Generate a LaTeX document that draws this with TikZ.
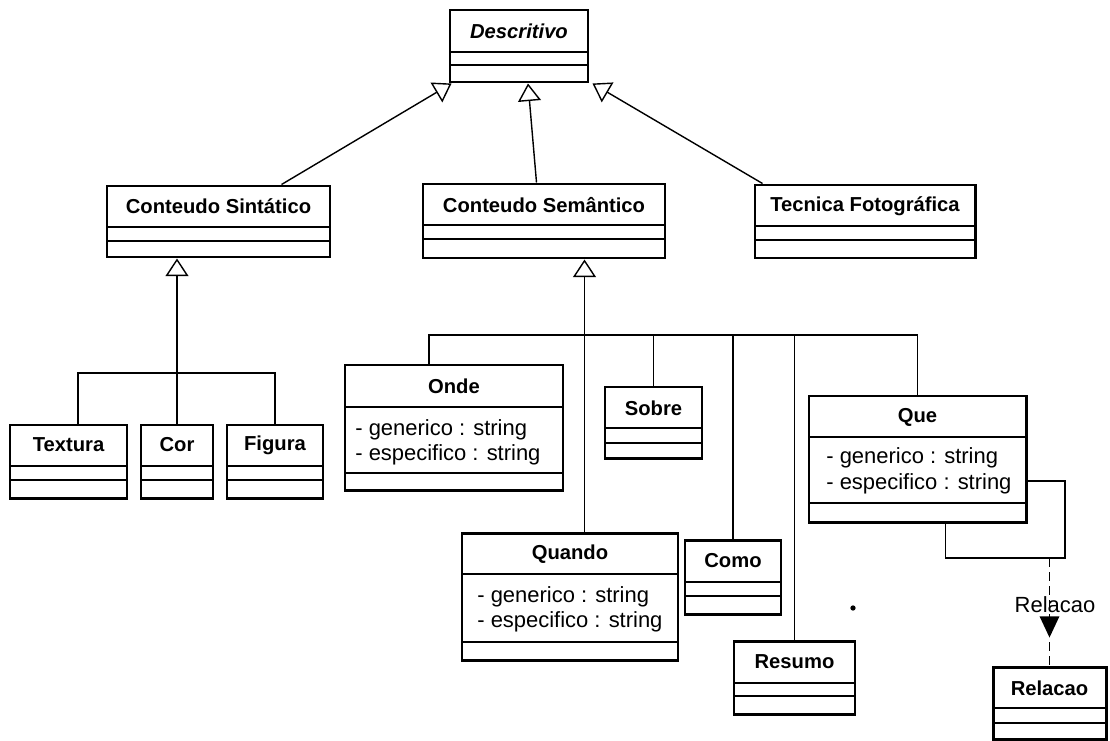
\documentclass[tikz,border=0pt]{standalone}
\usepackage{fontspec}
\setmainfont{Liberation Sans}
\usetikzlibrary{arrows.meta,calc,fit,decorations.markings}

\tikzset{
  classbox/.style = {draw, line width=1.7pt, inner sep=0pt},
  classname/.style = {font=\fontsize{11.5}{13}\selectfont\bfseries, inner sep=0pt},
  attr/.style = {font=\fontsize{12.5}{15}\selectfont, anchor=west, inner sep=0pt},
  sep/.style = {line width=0.8pt},
  link/.style = {line width=0.8pt},
  gen/.style = {link, -{Triangle[open, length=10pt, width=13pt, line width=0.8pt]}},
}

\begin{document}
\begin{tikzpicture}[x=0.02cm, y=-0.02cm]
\useasboundingbox (0,0) rectangle (1110,741);

% top class
\node[classbox, fit={(450,10) (588,82)}] (descr) {};
\node[classname] (descr-name) at (519,31) {\textit{Descritivo}};
\draw[sep] (450,52) -- (588,52);
\draw[sep] (450,65) -- (588,65);

% second level
\node[classbox, fit={(107,186) (330,257)}] (sint) {};
\node[classname] (sint-name) at (218.5,206) {Conteudo Sintático};
\draw[sep] (107,227) -- (330,227);
\draw[sep] (107,241) -- (330,241);

\node[classbox, fit={(423,184) (665,258)}] (sem) {};
\node[classname] (sem-name) at (544,205) {Conteudo Semântico};
\draw[sep] (423,225) -- (665,225);
\draw[sep] (423,239) -- (665,239);

\node[classbox, fit={(755,185) (975,258)}] (tec) {};
\node[classname] (tec-name) at (865,206) {Tecnica Fotográfica};
\draw[sep] (755,226) -- (975,226);
\draw[sep] (755,240) -- (975,240);

% syntactic leaves
\node[classbox, fit={(10,425) (127,498)}] (textura) {};
\node[classname] (textura-name) at (68.5,445) {Textura};
\draw[sep] (10,466) -- (127,466);
\draw[sep] (10,480) -- (127,480);

\node[classbox, fit={(141,425) (213,498)}] (cor) {};
\node[classname] (cor-name) at (177,445) {Cor};
\draw[sep] (141,466) -- (213,466);
\draw[sep] (141,480) -- (213,480);

\node[classbox, fit={(227,425) (323,498)}] (figura) {};
\node[classname] (figura-name) at (275,445) {Figura};
\draw[sep] (227,466) -- (323,466);
\draw[sep] (227,480) -- (323,480);

% semantic leaves
\node[classbox, fit={(345,365) (563,490)}] (onde) {};
\node[classname] (onde-name) at (454,386) {Onde};
\draw[sep] (345,407) -- (563,407);
\node[attr] (onde-a1) at (355,430) {- generico : string};
\node[attr] (onde-a2) at (355,455) {- especifico : string};
\draw[sep] (345,473) -- (563,473);

\node[classbox, fit={(605,387) (702,458)}] (sobre) {};
\node[classname] (sobre-name) at (653.5,408) {Sobre};
\draw[sep] (605,428) -- (702,428);
\draw[sep] (605,443) -- (702,443);

\node[classbox, fit={(809,396) (1026,522)}] (que) {};
\node[classname] (que-name) at (917.5,417) {Que};
\draw[sep] (809,437) -- (1026,437);
\node[attr] (que-a1) at (826,458) {- generico : string};
\node[attr] (que-a2) at (826,484) {- especifico : string};
\draw[sep] (809,503) -- (1026,503);

\node[classbox, fit={(462,533) (678,660)}] (quando) {};
\node[classname] (quando-name) at (570,554) {Quando};
\draw[sep] (462,574) -- (678,574);
\node[attr] (quando-a1) at (477,597) {- generico : string};
\node[attr] (quando-a2) at (477,622) {- especifico : string};
\draw[sep] (462,642) -- (678,642);

\node[classbox, fit={(685,540) (781,614)}] (como) {};
\node[classname] (como-name) at (733,561) {Como};
\draw[sep] (685,582) -- (781,582);
\draw[sep] (685,596) -- (781,596);

\node[classbox, fit={(734,641) (855,714)}] (resumo) {};
\node[classname] (resumo-name) at (794.5,662) {Resumo};
\draw[sep] (734,683) -- (855,683);
\draw[sep] (734,696) -- (855,696);

\node[classbox, fit={(993,667) (1106,739)}] (relacao) {};
\node[classname] (relacao-name) at (1049.5,688) {Relacao};
\draw[sep] (993,708) -- (1106,708);
\draw[sep] (993,723) -- (1106,723);

% generalisations to the top
\draw[gen] ($(sint.north west)+(176,0)$) -- ($(descr.south west)+(3,0)$);
\draw[gen] ($(sem.north west)+(115,0)$) -- ($(descr.south)+(9,0)$);
\draw[gen] ($(tec.north west)+(9,0)$) -- ($(descr.south east)+(3,0)$);

% syntactic tree
\coordinate (sinbar) at (78,373);
\draw[link] (sinbar |- textura.north) -- (sinbar) -- (figura.north |- sinbar) -- (figura.north);
\draw[gen] (cor.north) -- (cor.north |- sint.south);

% semantic tree
\coordinate (sembar) at (429,335);
\draw[link] (sembar |- onde.north) -- (sembar) -- (que.north |- sembar) -- (que.north);
\draw[gen] ($(quando.north west)+(124,0)$) -- ($(sem.south west)+(163,0)$);
\draw[link] (sobre.north) -- (sobre.north |- sembar);
\draw[link] (como.north) -- (como.north |- sembar);
\draw[link] (resumo.north) -- (resumo.north |- sembar);

% self association and dependency
\coordinate (loop) at (1065,558);
\draw[link] ($(que.south west)+(138,0)$) |- (loop) |- ($(que.east)+(0,22)$);
\coordinate (relsrc) at (1049.5,558);
\draw[line width=1pt, dash pattern=on 5pt off 3pt, postaction={decorate},
  decoration={markings, mark=at position 0.74 with {\arrow{Triangle[length=12pt, width=11pt]}}}]
  (relsrc) -- (relacao.north);
\node[attr, anchor=center] (rel-label) at (1055,605) {Relacao};

\fill (853,608) circle (1.5pt);
\end{tikzpicture}
\end{document}
